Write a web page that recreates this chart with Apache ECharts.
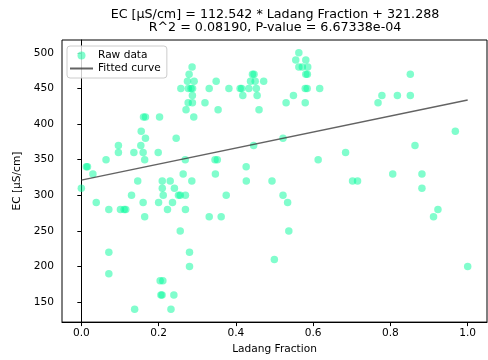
<!DOCTYPE html>
<html><head><meta charset="utf-8">
<script src="https://cdn.jsdelivr.net/npm/echarts@6/dist/echarts.min.js"></script>
<style>html,body{margin:0;padding:0;background:#fff}#c{width:488px;height:360px}</style>
</head><body><div id="c"></div>
<script>
var rawX = [0.000,0.013,0.016,0.030,0.064,0.096,0.096,0.136,0.154,0.160,0.155,0.166,0.164,0.161,0.166,0.2025,0.199,0.2455,0.269,0.2636,0.286,0.146,0.2095,0.230,0.2867,0.279,0.2747,0.292,0.2576,0.277,0.284,0.288,0.2875,0.2765,0.2875,0.271,0.291,0.320,0.331,0.349,0.354,0.382,0.411,0.415,0.418,0.4335,0.438,0.443,0.447,0.450,0.453,0.455,0.460,0.472,0.530,0.549,0.563,0.555,0.581,0.563,0.572,0.586,0.581,0.585,0.5795,0.5845,0.5795,0.617,0.522,0.446,0.346,0.352,0.4267,0.347,0.427,0.4935,0.613,0.684,0.8515,0.778,0.818,0.8515,0.768,0.968,0.8636,0.806,0.8816,0.702,0.715,0.8816,0.923,0.9116,1.000,0.375,0.522,0.534,0.331,0.362,0.537,0.4996,0.2095,0.241,0.130,0.160,0.212,0.2515,0.256,0.2695,0.0386,0.0712,0.1013,0.111,0.115,0.200,0.236,0.223,0.2695,0.164,0.256,0.0712,0.280,0.280,0.0712,0.204,0.211,0.206,0.209,0.2395,0.138,0.232];
var rawY = [310,340,340,330,350,370,360,360,370,360,390,380,350,410,410,410,360,380,350,330,320,320,320,320,480,470,460,460,450,450,450,450,440,430,430,420,410,430,450,460,420,450,450,450,440,450,460,470,470,460,450,440,420,460,430,440,500,490,490,480,480,480,470,470,450,450,430,450,380,370,350,350,340,330,320,320,350,360,470,440,440,440,430,390,370,330,330,320,320,310,280,270,200,300,300,290,270,270,250,210,310,310,300,290,300,300,300,300,290,280,280,280,280,290,290,280,280,270,250,220,220,200,190,180,180,160,160,160,140,140];
var fitX = [0, 1];
var fitY = [321.288, 433.830];
var xTicks = [0, 0.2, 0.4, 0.6, 0.8, 1.0];
var yTicks = [150, 200, 250, 300, 350, 400, 450, 500];
var titleLines = ['EC [\u00b5S/cm] = 112.542 * Ladang Fraction + 321.288', 'R^2 = 0.08190, P-value = 6.67338e-04'];

var raw = rawX.map(function(x, i){ return [x, rawY[i]]; });
var fit = fitX.map(function(x, i){ return [x, fitY[i]]; });
var F = 'DejaVu Sans';
var chart = echarts.init(document.getElementById('c'), null, {renderer: 'canvas'});
chart.setOption({
  animation: false,
  backgroundColor: '#fff',
  grid: {left: 62, right: 1, top: 40, bottom: 35, show: true, borderColor: '#000', borderWidth: 1, backgroundColor: 'transparent'},
  graphic: [
    {type: 'text', x: 275, y: 15, style: {text: titleLines[0], font: '12.7px ' + F, fill: '#000', textAlign: 'center', textVerticalAlign: 'middle'}},
    {type: 'text', x: 275, y: 28, style: {text: titleLines[1], font: '12.7px ' + F, fill: '#000', textAlign: 'center', textVerticalAlign: 'middle'}}
  ],
  legend: {
    left: 67, top: 46, orient: 'vertical', itemWidth: 23, itemHeight: 8, itemGap: 2,
    padding: [4, 6, 4, 2], borderColor: '#ccc', borderWidth: 1, borderRadius: 3,
    backgroundColor: 'rgba(255,255,255,0.8)',
    textStyle: {fontFamily: F, fontSize: 10.6, color: '#000'},
    data: [{name: 'Raw data', icon: 'circle'}, {name: 'Fitted curve', itemStyle: {opacity: 0}}]
  },
  xAxis: {
    type: 'value', min: -0.05, max: 1.05,
    name: 'Ladang Fraction', nameLocation: 'middle', nameGap: 21,
    nameTextStyle: {fontFamily: F, fontSize: 10.6, color: '#000'},
    axisLine: {show: true, lineStyle: {color: '#000', width: 1}},
    axisTick: {show: true, length: 4, lineStyle: {color: '#000'}, customValues: xTicks},
    axisLabel: {margin: 6, fontFamily: F, fontSize: 10.6, color: '#000', customValues: xTicks, formatter: function(v){ return v.toFixed(1); }},
    splitLine: {show: false}
  },
  yAxis: {
    type: 'value', min: 122, max: 518,
    name: 'EC [\u00b5S/cm]', nameLocation: 'middle', nameGap: 34, nameRotate: 90,
    nameTextStyle: {fontFamily: F, fontSize: 10.6, color: '#000'},
    axisLine: {show: true, lineStyle: {color: '#000', width: 1}},
    axisTick: {show: true, length: 4, lineStyle: {color: '#000'}, customValues: yTicks},
    axisLabel: {margin: 8, fontFamily: F, fontSize: 10.6, color: '#000', customValues: yTicks},
    splitLine: {show: false}
  },
  series: [
    {name: 'Raw data', type: 'scatter', data: raw, symbolSize: 7.5,
     itemStyle: {color: 'rgba(0,250,154,0.62)'}, z: 2},
    {name: 'Fitted curve', type: 'line', data: fit, symbol: 'none', showSymbol: false,
     lineStyle: {color: 'rgba(60,60,60,0.8)', width: 1.5}, itemStyle: {color: 'rgba(60,60,60,0.8)'}, z: 3}
  ]
});
</script></body></html>
